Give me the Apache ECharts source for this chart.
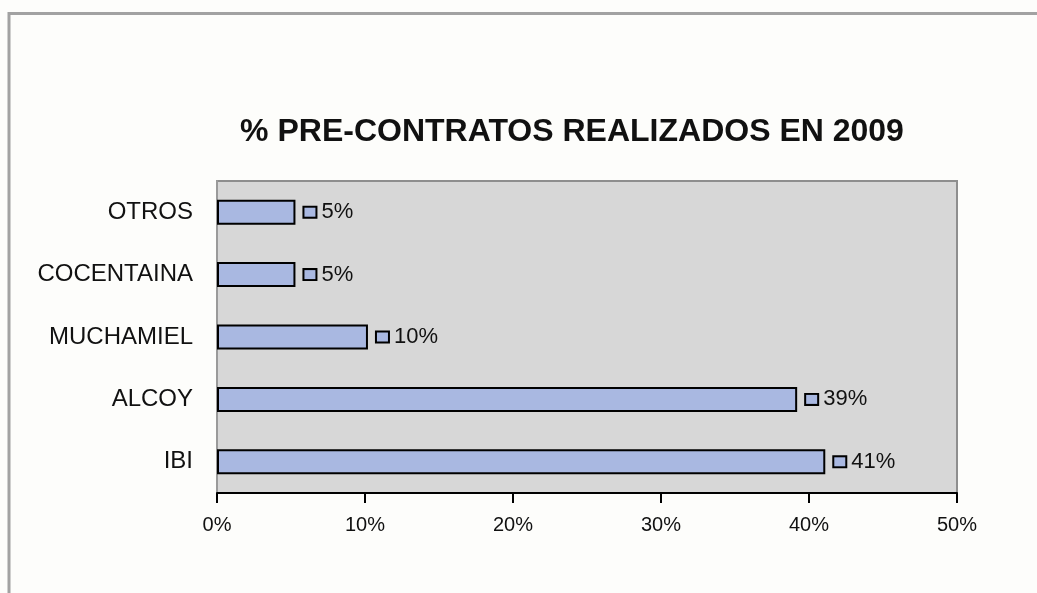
<!DOCTYPE html>
<html>
<head>
<meta charset="utf-8">
<script src="https://cdn.jsdelivr.net/npm/echarts@6/dist/echarts.min.js"></script>
<style>
  html, body { margin: 0; padding: 0; background: #fdfdfb; }
  #chart { width: 1037px; height: 593px; }
</style>
</head>
<body>
<div id="chart"></div>
<script>
// Data (bottom-to-top order for the category axis)
var categories = ['IBI', 'ALCOY', 'MUCHAMIEL', 'COCENTAINA', 'OTROS'];
var values = [41.1, 39.2, 10.2, 5.3, 5.3];
var xTicks = [0, 10, 20, 30, 40, 50];
var titleText = '% PRE-CONTRATOS REALIZADOS EN 2009';

var barColor = '#a9b8e1';
var chart = echarts.init(document.getElementById('chart'));
chart.setOption({
  backgroundColor: '#fdfdfb',
  animation: false,
  title: {
    text: titleText,
    left: 567,
    top: 111,
    textAlign: 'center',
    textStyle: { fontFamily: 'Liberation Sans, Arial, sans-serif', fontWeight: 'bold', fontSize: 32, color: '#111' }
  },
  graphic: [{
    type: 'rect',
    shape: { x: 9, y: 13.5, width: 1200, height: 800 },
    style: { fill: 'none', stroke: '#a2a2a2', lineWidth: 3 },
    silent: true
  }],
  grid: {
    left: 217, right: 80, top: 181, bottom: 100,
    show: true, backgroundColor: '#d7d7d7', borderColor: '#8e8e8e', borderWidth: 2
  },
  xAxis: {
    type: 'value', min: xTicks[0], max: xTicks[xTicks.length - 1], interval: 10,
    axisLine: { show: true, lineStyle: { color: '#000', width: 2 } },
    axisTick: { show: true, length: 10, lineStyle: { color: '#000', width: 2 } },
    splitLine: { show: false },
    axisLabel: {
      margin: 22, fontSize: 20, color: '#111', fontFamily: 'Liberation Sans, Arial, sans-serif',
      formatter: function (v) { return v + '%'; }
    }
  },
  yAxis: {
    type: 'category', data: categories,
    axisLine: { show: true, lineStyle: { color: '#9a9a9a', width: 2 } },
    axisTick: { show: false },
    axisLabel: { margin: 24, fontSize: 24, color: '#111', fontFamily: 'Liberation Sans, Arial, sans-serif' }
  },
  series: [{
    type: 'bar',
    data: values,
    barWidth: 25,
    itemStyle: { color: barColor, borderColor: '#000', borderWidth: 2 },
    label: {
      show: true, position: 'right', distance: 9,
      formatter: function (p) { return '{b|}{v|' + Math.round(p.value) + '%}'; },
      rich: {
        b: { width: 11, height: 9, backgroundColor: barColor, borderColor: '#000', borderWidth: 2 },
        v: { fontSize: 22, color: '#111', padding: [0, 0, 0, 6], fontFamily: 'Liberation Sans, Arial, sans-serif' }
      }
    }
  }]
});
</script>
</body>
</html>
